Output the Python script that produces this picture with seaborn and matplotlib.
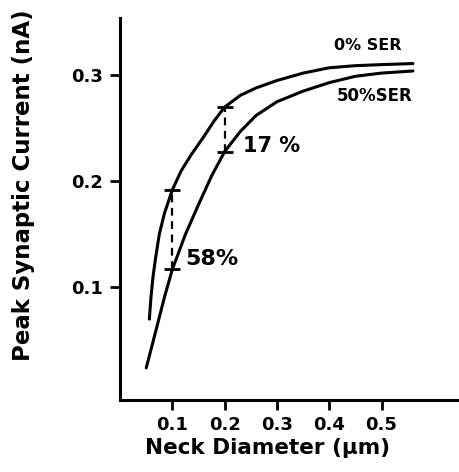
import matplotlib
matplotlib.use("Agg")
import matplotlib.pyplot as plt
import seaborn as sns
import pandas as pd

# curve values (neck diameter in um, current in nA)
diam_0 = [0.056, 0.059, 0.063, 0.068, 0.075, 0.085, 0.10, 0.117, 0.136, 0.16, 0.18, 0.20,
          0.23, 0.26, 0.30, 0.35, 0.40, 0.45, 0.50, 0.56]
curr_0 = [0.070, 0.090, 0.110, 0.128, 0.150, 0.170, 0.192, 0.210, 0.225, 0.242, 0.257, 0.270,
          0.281, 0.288, 0.295, 0.302, 0.307, 0.309, 0.310, 0.311]

diam_50 = [0.05, 0.07, 0.085, 0.10, 0.125, 0.15, 0.175, 0.20, 0.23, 0.26, 0.30, 0.35, 0.40, 0.45, 0.50, 0.56]
curr_50 = [0.024, 0.062, 0.091, 0.117, 0.150, 0.178, 0.205, 0.228, 0.247, 0.262, 0.275, 0.285, 0.293, 0.299, 0.302, 0.304]

# comparison points
cmp_x = [0.10, 0.20]
cmp_hi = [0.192, 0.270]
cmp_lo = [0.117, 0.228]
cmp_labels = ["58%", "17 %"]

x_ticks = [0.1, 0.2, 0.3, 0.4, 0.5]
y_ticks = [0.1, 0.2, 0.3]

sns.set_style("ticks")
plt.rcParams['font.family'] = ['DejaVu Sans']
plt.rcParams['font.weight'] = 'bold'
plt.rcParams['text.color'] = 'black'
plt.rcParams['axes.labelcolor'] = 'black'
plt.rcParams['xtick.color'] = 'black'
plt.rcParams['ytick.color'] = 'black'
plt.rcParams['axes.edgecolor'] = 'black'

df = pd.concat([
    pd.DataFrame({'diam': diam_0, 'curr': curr_0, 'ser': '0% SER'}),
    pd.DataFrame({'diam': diam_50, 'curr': curr_50, 'ser': '50%SER'}),
])

fig = plt.figure(figsize=(4.6, 4.72), dpi=100)
ax = fig.add_axes([0.261, 0.153, 0.739, 0.809])

sns.lineplot(data=df, x='diam', y='curr', units='ser', estimator=None,
             color='black', lw=2.2, sort=False, legend=False, ax=ax)

# dashed connectors with little cross marks
for x, hi, lo in zip(cmp_x, cmp_hi, cmp_lo):
    ax.plot([x, x], [lo, hi], color='black', lw=1.6, ls=(0, (3.5, 2.5)))
ax.scatter(cmp_x + cmp_x, cmp_hi + cmp_lo, marker='_', s=140, lw=2, color='black', zorder=3)

ax.text(0.125, 0.127, cmp_labels[0], fontsize=16, va='center', ha='left')
ax.text(0.235, 0.233, cmp_labels[1], fontsize=15, va='center', ha='left')
ax.text(0.41, 0.328, "0% SER", fontsize=11.5, va='center', ha='left')
ax.text(0.415, 0.280, "50%SER", fontsize=12, va='center', ha='left')

ax.set_xlim(0, 0.65)
ax.set_ylim(-0.006, 0.354)
ax.set_xticks(x_ticks)
ax.set_xticklabels([str(v) for v in x_ticks])
ax.set_yticks(y_ticks)
ax.set_yticklabels([str(v) for v in y_ticks])
ax.tick_params(direction='out', length=7, width=2, labelsize=13, pad=5)
ax.set_xlabel("Neck Diameter (µm)", fontsize=15.5, fontweight='bold')
ax.set_ylabel("Peak Synaptic Current (nA)", fontsize=16.5, fontweight='bold')
ax.xaxis.set_label_coords(0.434, -0.1)
ax.yaxis.set_label_coords(-0.25, 0.563)

sns.despine(ax=ax)
for s in ['left', 'bottom']:
    ax.spines[s].set_linewidth(2.2)

fig.savefig("out.png", dpi=100)
